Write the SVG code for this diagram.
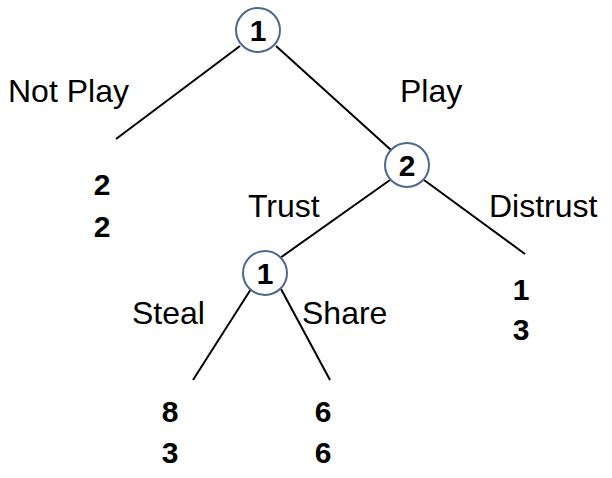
<svg xmlns="http://www.w3.org/2000/svg" width="612" height="478" viewBox="0 0 612 478">
<style>
.e{stroke:#000;stroke-width:2;fill:none}
.n{fill:#fff;stroke:#4a6890;stroke-width:2}
.nl{font-family:"Liberation Sans",Arial,sans-serif;font-weight:bold;font-size:30px;text-anchor:middle}
.l{font-family:"Liberation Sans",Arial,sans-serif;font-size:32px}
.p{font-family:"Liberation Sans",Arial,sans-serif;font-weight:bold;font-size:30px;text-anchor:middle}
</style>
<rect width="612" height="478" fill="#fff"/>
<g id="connectors">
<line class="e" x1="240" y1="46" x2="116" y2="139"/>
<line class="e" x1="276" y1="46" x2="391" y2="150"/>
<line class="e" x1="390" y1="180" x2="280" y2="258"/>
<line class="e" x1="424" y1="180" x2="525" y2="254"/>
<line class="e" x1="251" y1="289" x2="193" y2="380"/>
<line class="e" x1="281" y1="289" x2="330" y2="380"/>
</g>
<g id="n1"><circle class="n" cx="258" cy="30" r="22"/><text class="nl" x="258" y="41">1</text></g>
<g id="n2"><circle class="n" cx="407" cy="165" r="22"/><text class="nl" x="407" y="176">2</text></g>
<g id="n3"><circle class="n" cx="265" cy="273" r="22"/><text class="nl" x="265" y="284">1</text></g>
<g id="labels">
<text class="l" x="8" y="102">Not Play</text>
<text class="l" x="400" y="102">Play</text>
<text class="l" x="248" y="217">Trust</text>
<text class="l" x="489" y="217">Distrust</text>
<text class="l" x="132" y="324">Steal</text>
<text class="l" x="302" y="324">Share</text>
</g>
<g id="payoffs">
<text class="p" x="102" y="195">2</text><text class="p" x="102" y="237">2</text>
<text class="p" x="521" y="300">1</text><text class="p" x="521" y="340">3</text>
<text class="p" x="170" y="422">8</text><text class="p" x="323" y="422">6</text>
<text class="p" x="170" y="463">3</text><text class="p" x="323" y="463">6</text>
</g>
</svg>
